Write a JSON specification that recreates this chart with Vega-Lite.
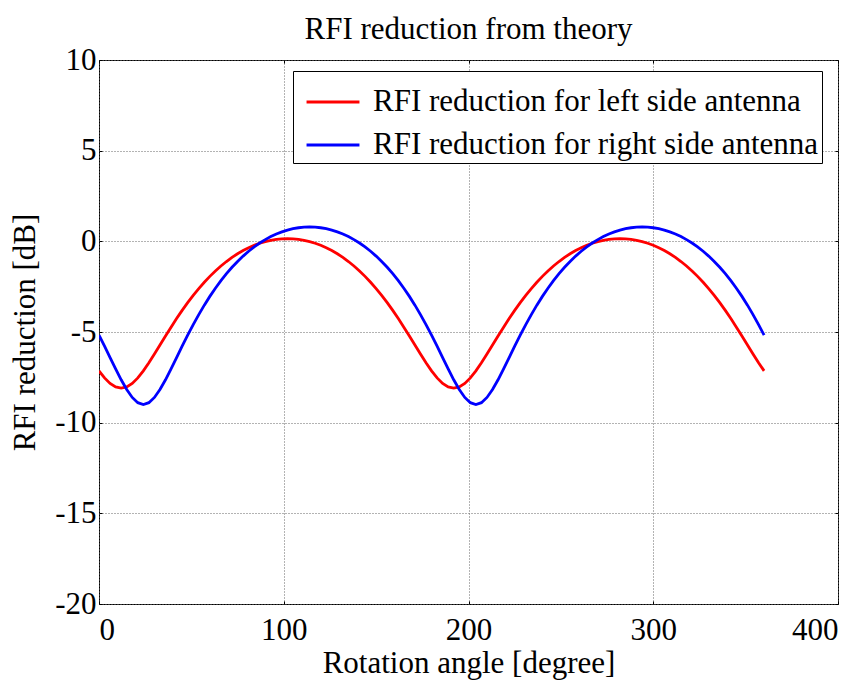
{
  "$schema": "https://vega.github.io/schema/vega-lite/v6.json",
  "width": 739,
  "height": 544,
  "autosize": "none",
  "padding": {"left": 99, "top": 60, "right": 30, "bottom": 81},
  "background": "white",
  "config": {
    "font": "Liberation Serif",
    "view": {"stroke": "black", "strokeWidth": 1}
  },
  "title": {
    "text": "RFI reduction from theory",
    "font": "Liberation Serif",
    "fontSize": 31,
    "fontWeight": "normal",
    "color": "black",
    "anchor": "middle",
    "offset": -2
  },
  "data": {
    "values": [
      {"angle": 0, "L": -7.144, "R": -5.176},
      {"angle": 3, "L": -7.532, "R": -5.785},
      {"angle": 6, "L": -7.835, "R": -6.41},
      {"angle": 9, "L": -8.03, "R": -7.035},
      {"angle": 12, "L": -8.097, "R": -7.634},
      {"angle": 15, "L": -8.03, "R": -8.174},
      {"angle": 18, "L": -7.835, "R": -8.609},
      {"angle": 21, "L": -7.532, "R": -8.896},
      {"angle": 24, "L": -7.144, "R": -8.996},
      {"angle": 27, "L": -6.697, "R": -8.896},
      {"angle": 30, "L": -6.215, "R": -8.609},
      {"angle": 33, "L": -5.718, "R": -8.174},
      {"angle": 36, "L": -5.22, "R": -7.634},
      {"angle": 39, "L": -4.732, "R": -7.035},
      {"angle": 42, "L": -4.26, "R": -6.41},
      {"angle": 45, "L": -3.809, "R": -5.785},
      {"angle": 48, "L": -3.382, "R": -5.176},
      {"angle": 51, "L": -2.98, "R": -4.592},
      {"angle": 54, "L": -2.604, "R": -4.04},
      {"angle": 57, "L": -2.255, "R": -3.52},
      {"angle": 60, "L": -1.932, "R": -3.036},
      {"angle": 63, "L": -1.634, "R": -2.586},
      {"angle": 66, "L": -1.361, "R": -2.169},
      {"angle": 69, "L": -1.113, "R": -1.785},
      {"angle": 72, "L": -0.888, "R": -1.432},
      {"angle": 75, "L": -0.687, "R": -1.109},
      {"angle": 78, "L": -0.509, "R": -0.815},
      {"angle": 81, "L": -0.353, "R": -0.548},
      {"angle": 84, "L": -0.218, "R": -0.308},
      {"angle": 87, "L": -0.105, "R": -0.094},
      {"angle": 90, "L": -0.013, "R": 0.096},
      {"angle": 93, "L": 0.058, "R": 0.262},
      {"angle": 96, "L": 0.109, "R": 0.404},
      {"angle": 99, "L": 0.139, "R": 0.523},
      {"angle": 102, "L": 0.149, "R": 0.62},
      {"angle": 105, "L": 0.139, "R": 0.696},
      {"angle": 108, "L": 0.109, "R": 0.749},
      {"angle": 111, "L": 0.058, "R": 0.781},
      {"angle": 114, "L": -0.013, "R": 0.792},
      {"angle": 117, "L": -0.105, "R": 0.781},
      {"angle": 120, "L": -0.218, "R": 0.749},
      {"angle": 123, "L": -0.353, "R": 0.696},
      {"angle": 126, "L": -0.509, "R": 0.62},
      {"angle": 129, "L": -0.687, "R": 0.523},
      {"angle": 132, "L": -0.888, "R": 0.404},
      {"angle": 135, "L": -1.113, "R": 0.262},
      {"angle": 138, "L": -1.361, "R": 0.096},
      {"angle": 141, "L": -1.634, "R": -0.094},
      {"angle": 144, "L": -1.932, "R": -0.308},
      {"angle": 147, "L": -2.255, "R": -0.548},
      {"angle": 150, "L": -2.604, "R": -0.815},
      {"angle": 153, "L": -2.98, "R": -1.109},
      {"angle": 156, "L": -3.382, "R": -1.432},
      {"angle": 159, "L": -3.809, "R": -1.785},
      {"angle": 162, "L": -4.26, "R": -2.169},
      {"angle": 165, "L": -4.732, "R": -2.586},
      {"angle": 168, "L": -5.22, "R": -3.036},
      {"angle": 171, "L": -5.718, "R": -3.52},
      {"angle": 174, "L": -6.215, "R": -4.04},
      {"angle": 177, "L": -6.697, "R": -4.592},
      {"angle": 180, "L": -7.144, "R": -5.176},
      {"angle": 183, "L": -7.532, "R": -5.785},
      {"angle": 186, "L": -7.835, "R": -6.41},
      {"angle": 189, "L": -8.03, "R": -7.035},
      {"angle": 192, "L": -8.097, "R": -7.634},
      {"angle": 195, "L": -8.03, "R": -8.174},
      {"angle": 198, "L": -7.835, "R": -8.609},
      {"angle": 201, "L": -7.532, "R": -8.896},
      {"angle": 204, "L": -7.144, "R": -8.996},
      {"angle": 207, "L": -6.697, "R": -8.896},
      {"angle": 210, "L": -6.215, "R": -8.609},
      {"angle": 213, "L": -5.718, "R": -8.174},
      {"angle": 216, "L": -5.22, "R": -7.634},
      {"angle": 219, "L": -4.732, "R": -7.035},
      {"angle": 222, "L": -4.26, "R": -6.41},
      {"angle": 225, "L": -3.809, "R": -5.785},
      {"angle": 228, "L": -3.382, "R": -5.176},
      {"angle": 231, "L": -2.98, "R": -4.592},
      {"angle": 234, "L": -2.604, "R": -4.04},
      {"angle": 237, "L": -2.255, "R": -3.52},
      {"angle": 240, "L": -1.932, "R": -3.036},
      {"angle": 243, "L": -1.634, "R": -2.586},
      {"angle": 246, "L": -1.361, "R": -2.169},
      {"angle": 249, "L": -1.113, "R": -1.785},
      {"angle": 252, "L": -0.888, "R": -1.432},
      {"angle": 255, "L": -0.687, "R": -1.109},
      {"angle": 258, "L": -0.509, "R": -0.815},
      {"angle": 261, "L": -0.353, "R": -0.548},
      {"angle": 264, "L": -0.218, "R": -0.308},
      {"angle": 267, "L": -0.105, "R": -0.094},
      {"angle": 270, "L": -0.013, "R": 0.096},
      {"angle": 273, "L": 0.058, "R": 0.262},
      {"angle": 276, "L": 0.109, "R": 0.404},
      {"angle": 279, "L": 0.139, "R": 0.523},
      {"angle": 282, "L": 0.149, "R": 0.62},
      {"angle": 285, "L": 0.139, "R": 0.696},
      {"angle": 288, "L": 0.109, "R": 0.749},
      {"angle": 291, "L": 0.058, "R": 0.781},
      {"angle": 294, "L": -0.013, "R": 0.792},
      {"angle": 297, "L": -0.105, "R": 0.781},
      {"angle": 300, "L": -0.218, "R": 0.749},
      {"angle": 303, "L": -0.353, "R": 0.696},
      {"angle": 306, "L": -0.509, "R": 0.62},
      {"angle": 309, "L": -0.687, "R": 0.523},
      {"angle": 312, "L": -0.888, "R": 0.404},
      {"angle": 315, "L": -1.113, "R": 0.262},
      {"angle": 318, "L": -1.361, "R": 0.096},
      {"angle": 321, "L": -1.634, "R": -0.094},
      {"angle": 324, "L": -1.932, "R": -0.308},
      {"angle": 327, "L": -2.255, "R": -0.548},
      {"angle": 330, "L": -2.604, "R": -0.815},
      {"angle": 333, "L": -2.98, "R": -1.109},
      {"angle": 336, "L": -3.382, "R": -1.432},
      {"angle": 339, "L": -3.809, "R": -1.785},
      {"angle": 342, "L": -4.26, "R": -2.169},
      {"angle": 345, "L": -4.732, "R": -2.586},
      {"angle": 348, "L": -5.22, "R": -3.036},
      {"angle": 351, "L": -5.718, "R": -3.52},
      {"angle": 354, "L": -6.215, "R": -4.04},
      {"angle": 357, "L": -6.697, "R": -4.592},
      {"angle": 360, "L": -7.144, "R": -5.176}
    ]
  },
  "transform": [{"fold": ["L", "R"], "as": ["series", "dB"]}],
  "layer": [
    {
      "mark": {"type": "line", "strokeWidth": 2.8, "clip": true},
      "encoding": {
        "x": {
          "field": "angle",
          "type": "quantitative",
          "scale": {"domain": [0, 400], "nice": false, "zero": false},
          "axis": {
            "values": [0, 100, 200, 300, 400],
            "title": "Rotation angle [degree]",
            "titleFont": "Liberation Serif",
            "titleFontSize": 31,
            "titleFontWeight": "normal",
            "titleColor": "black",
            "titlePadding": 3,
            "labelFont": "Liberation Serif",
            "labelFontSize": 31,
            "labelColor": "black",
            "labelPadding": 14,
            "labelExpr": "'' + datum.value",
            "domain": false,
            "ticks": true,
            "tickSize": -3,
            "tickColor": "black",
            "grid": true,
            "gridColor": "#666666",
            "gridDash": [1, 2],
            "gridWidth": 1
          }
        },
        "y": {
          "field": "dB",
          "type": "quantitative",
          "scale": {"domain": [-20, 10], "nice": false, "zero": false},
          "axis": {
            "values": [-20, -15, -10, -5, 0, 5, 10],
            "title": "RFI reduction [dB]",
            "titleFont": "Liberation Serif",
            "titleFontSize": 31,
            "titleFontWeight": "normal",
            "titleColor": "black",
            "titlePadding": 13,
            "labelFont": "Liberation Serif",
            "labelFontSize": 31,
            "labelColor": "black",
            "labelPadding": 6,
            "labelExpr": "'' + datum.value",
            "domain": false,
            "ticks": true,
            "tickSize": -3,
            "tickColor": "black",
            "grid": true,
            "gridColor": "#666666",
            "gridDash": [1, 2],
            "gridWidth": 1
          }
        },
        "color": {
          "field": "series",
          "type": "nominal",
          "scale": {"domain": ["L", "R"], "range": ["#ff0000", "#0000ff"]},
          "legend": {
            "orient": "none",
            "legendX": 194,
            "legendY": 11,
            "title": null,
            "direction": "vertical",
            "fillColor": "white",
            "strokeColor": "black",
            "padding": 3,
            "rowPadding": 0,
            "symbolOffset": 9,
            "symbolType": "stroke",
            "symbolSize": 2800,
            "symbolStrokeWidth": 2.8,
            "labelFont": "Liberation Serif",
            "labelFontSize": 31,
            "labelColor": "black",
            "labelOffset": 12,
            "labelLimit": 700,
            "labelExpr": "datum.value == 'L' ? 'RFI reduction for left side antenna' : 'RFI reduction for right side antenna'"
          }
        }
      }
    },
    {
      "mark": {"type": "line", "opacity": 0},
      "encoding": {
        "x": {
          "field": "angle",
          "type": "quantitative",
          "scale": {"domain": [0, 400], "nice": false, "zero": false},
          "axis": {
            "orient": "top",
            "values": [0, 100, 200, 300, 400],
            "title": null,
            "labels": false,
            "domain": false,
            "grid": false,
            "tickSize": -3,
            "tickColor": "black"
          }
        },
        "y": {
          "field": "dB",
          "type": "quantitative",
          "scale": {"domain": [-20, 10], "nice": false, "zero": false},
          "axis": {
            "orient": "right",
            "values": [-20, -15, -10, -5, 0, 5, 10],
            "title": null,
            "labels": false,
            "domain": false,
            "grid": false,
            "tickSize": -3,
            "tickColor": "black"
          }
        },
        "detail": {"field": "series", "type": "nominal"}
      }
    }
  ],
  "resolve": {"axis": {"x": "independent", "y": "independent"}}
}
